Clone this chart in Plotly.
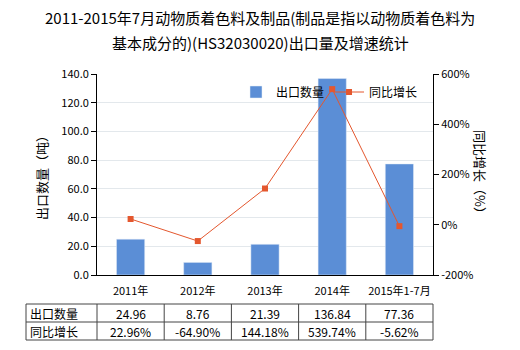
import plotly.graph_objects as go

categories = ["2011年", "2012年", "2013年", "2014年", "2015年1-7月"]
export_qty = [24.96, 8.76, 21.39, 136.84, 77.36]
growth = [22.96, -64.90, 144.18, 539.74, -5.62]
qty_labels = ["24.96", "8.76", "21.39", "136.84", "77.36"]
growth_labels = ["22.96%", "-64.90%", "144.18%", "539.74%", "-5.62%"]
left_ticks = [0, 20, 40, 60, 80, 100, 120, 140]
right_ticks = [-200, 0, 200, 400, 600]
right_tick_text = ["-200%", "0%", "200%", "400%", "600%"]
title_lines = ["2011-2015年7月动物质着色料及制品(制品是指以动物质着色料为",
               "基本成分的)(HS32030020)出口量及增速统计"]

FONT = "Noto Sans CJK SC, Microsoft YaHei, sans-serif"
BAR = "#5B8ED6"
LINE = "#E4572E"

fig = go.Figure()
fig.add_trace(go.Bar(x=categories, y=export_qty, name="出口数量", marker_color=BAR,
                     width=0.42, yaxis="y"))
fig.add_trace(go.Scatter(x=categories, y=growth, name="同比增长", mode="lines+markers",
                         line=dict(color=LINE, width=1),
                         marker=dict(symbol="square", size=6, color=LINE), yaxis="y2"))

L, R, T, B = 97, 87, 74, 75
W, H = 520, 350
pw, ph = W - L - R, H - T - B

def px(x):
    return (x - L) / pw

def py(y):
    return (H - B - y) / ph

shapes = []
x_edges = [26] + [L + i * pw / 5 for i in range(6)]
y_lines = [304, 322, 340]
for yy in y_lines:
    shapes.append(dict(type="line", xref="paper", yref="paper", x0=px(x_edges[0]), x1=px(x_edges[-1]),
                       y0=py(yy), y1=py(yy), line=dict(color="#444", width=1)))
for xx in x_edges:
    shapes.append(dict(type="line", xref="paper", yref="paper", x0=px(xx), x1=px(xx),
                       y0=py(y_lines[0]), y1=py(y_lines[-1]), line=dict(color="#444", width=1)))

annotations = []
for text, yy in zip(title_lines, [17, 43]):
    annotations.append(dict(text=text, xref="paper", yref="paper", x=px(260), y=py(yy),
                            xanchor="center", yanchor="middle", showarrow=False,
                            font=dict(size=15, family=FONT, color="#000")))
row_y = [313, 331]
for label, vals, yy in [("出口数量", qty_labels, row_y[0]), ("同比增长", growth_labels, row_y[1])]:
    annotations.append(dict(text=label, xref="paper", yref="paper", x=px(28), y=py(yy),
                            xanchor="left", yanchor="middle", showarrow=False,
                            font=dict(size=12, color="#000", family=FONT)))
    for c, v in zip(categories, vals):
        annotations.append(dict(text=v, xref="x", yref="paper", x=c, y=py(yy),
                                xanchor="center", yanchor="middle", showarrow=False,
                                font=dict(size=12, color="#000", family=FONT)))

annotations.append(dict(text="出口数量（吨）", xref="paper", yref="paper", x=px(30), y=0.5,
                        textangle=-90, showarrow=False, font=dict(size=13, family=FONT, color="#000")))
annotations.append(dict(text="同比增长（%）", xref="paper", yref="paper", x=px(492), y=0.5,
                        textangle=90, showarrow=False, font=dict(size=13, family=FONT, color="#000")))

fig.update_layout(
    width=W, height=H,
    margin=dict(l=L, r=R, t=T, b=B),
    paper_bgcolor="white", plot_bgcolor="white",
    font=dict(family=FONT, size=12, color="#000"),
    showlegend=True,
    legend=dict(orientation="h", x=px(236), y=py(92), xanchor="left", yanchor="middle",
                bgcolor="rgba(0,0,0,0)", font=dict(size=12, family=FONT), itemwidth=30),
    xaxis=dict(showline=True, linecolor="#000", ticks="", tickfont=dict(size=11, family=FONT),
               showgrid=False, ticklabelstandoff=6),
    yaxis=dict(range=[0, 140], tickvals=left_ticks, tickformat=".1f", showline=True,
               linecolor="#000", ticks="outside", ticklen=5, tickcolor="#000",
               gridcolor="#E3E8EC", tickfont=dict(size=11, family=FONT), zeroline=False),
    yaxis2=dict(range=[-200, 600], tickvals=right_ticks, ticktext=right_tick_text, overlaying="y",
                side="right", showline=True, linecolor="#000", ticks="outside", ticklen=5,
                tickcolor="#000", showgrid=False, zeroline=False, tickfont=dict(size=11, family=FONT)),
    shapes=shapes, annotations=annotations, bargap=0.5,
)

fig.write_html("out.html")
